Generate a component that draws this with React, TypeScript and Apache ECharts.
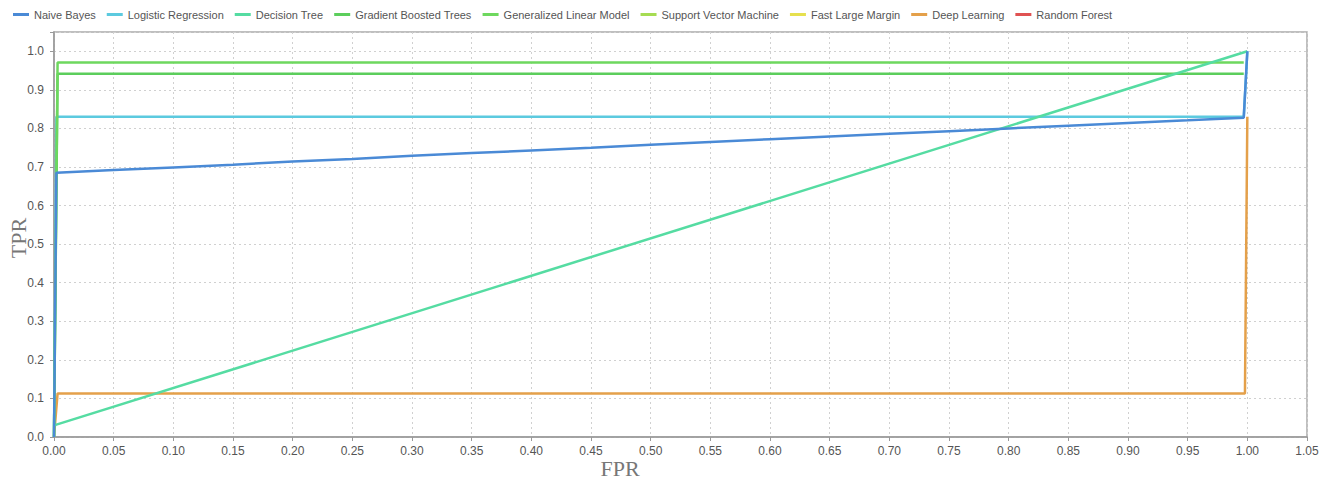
import React, { useEffect, useRef } from "react";
import * as echarts from "echarts";

const seriesNames = [
  "Naive Bayes",
  "Logistic Regression",
  "Decision Tree",
  "Gradient Boosted Trees",
  "Generalized Linear Model",
  "Support Vector Machine",
  "Fast Large Margin",
  "Deep Learning",
  "Random Forest",
];

const seriesColors = [
  "#4a8ad6",
  "#5ccadf",
  "#55dca2",
  "#5cce5c",
  "#6ed85e",
  "#a6dc52",
  "#e6e04e",
  "#e4a04a",
  "#e05252",
];

const naiveBayesFpr = [0, 0.002, 0.05, 0.1, 0.15, 0.2, 0.25, 0.3, 0.35, 0.4, 0.45, 0.5, 0.55, 0.6, 0.65, 0.7, 0.75, 0.8, 0.85, 0.9, 0.95, 0.997, 1.0];
const naiveBayesTpr = [0, 0.685, 0.692, 0.699, 0.706, 0.714, 0.721, 0.729, 0.736, 0.743, 0.75, 0.758, 0.765, 0.772, 0.779, 0.786, 0.793, 0.8, 0.807, 0.814, 0.821, 0.828, 1.0];

const logisticFpr = [0, 0.002, 0.997, 1.0];
const logisticTpr = [0, 0.83, 0.83, 1.0];

const decisionTreeFpr = [0, 1.0];
const decisionTreeTpr = [0.03, 1.0];

const gbtFpr = [0, 0.003, 0.997];
const gbtTpr = [0, 0.942, 0.942];

const glmFpr = [0, 0.003, 0.997];
const glmTpr = [0, 0.971, 0.971];

const svmFpr: number[] = [];
const svmTpr: number[] = [];

const flmFpr: number[] = [];
const flmTpr: number[] = [];

const deepFpr = [0, 0.003, 0.998, 1.0];
const deepTpr = [0, 0.113, 0.113, 0.83];

const rfFpr: number[] = [];
const rfTpr: number[] = [];

const allFpr = [naiveBayesFpr, logisticFpr, decisionTreeFpr, gbtFpr, glmFpr, svmFpr, flmFpr, deepFpr, rfFpr];
const allTpr = [naiveBayesTpr, logisticTpr, decisionTreeTpr, gbtTpr, glmTpr, svmTpr, flmTpr, deepTpr, rfTpr];

const zOrder = [9, 5, 8, 6, 7, 4, 3, 2, 1];

export default function App() {
  const ref = useRef<HTMLDivElement>(null);
  useEffect(() => {
    if (!ref.current) return;
    const chart = echarts.init(ref.current, undefined, { renderer: "svg" });
    const series = seriesNames.map((name, i) => ({
      name,
      type: "line",
      data: allFpr[i].map((x, j) => [x, allTpr[i][j]]),
      showSymbol: false,
      symbol: "none",
      lineStyle: { width: 2.5, color: seriesColors[i] },
      itemStyle: { color: seriesColors[i] },
      z: zOrder[i],
    }));
    chart.setOption({
      animation: false,
      backgroundColor: "#ffffff",
      legend: {
        left: 8,
        top: 4,
        icon: "rect",
        itemWidth: 16,
        itemHeight: 3,
        itemGap: 11,
        textStyle: { fontFamily: "Liberation Sans", fontSize: 11, color: "#555" },
        data: seriesNames,
      },
      grid: {
        left: 54,
        right: 18,
        top: 32,
        bottom: 46,
        show: true,
        borderColor: "#aaa",
        borderWidth: 1.5,
      },
      xAxis: {
        type: "value",
        min: 0,
        max: 1.05,
        interval: 0.05,
        axisLine: { show: true, lineStyle: { color: "#999", width: 1.5 } },
        axisTick: { show: true, length: 4, lineStyle: { color: "#999" } },
        axisLabel: {
          fontFamily: "Liberation Sans",
          fontSize: 12,
          color: "#555",
          margin: 8,
          formatter: (v: number) => v.toFixed(2),
        },
        splitLine: { show: true, lineStyle: { color: "#d0d0d0", type: [2, 3] } },
      },
      yAxis: {
        type: "value",
        min: 0,
        max: 1.05,
        interval: 0.1,
        axisLine: { show: true, lineStyle: { color: "#999", width: 1.5 } },
        axisTick: { show: true, length: 4, lineStyle: { color: "#999" } },
        axisLabel: {
          fontFamily: "Liberation Sans",
          fontSize: 12,
          color: "#555",
          margin: 10,
          formatter: (v: number) => (v > 1.0001 ? "" : v.toFixed(1)),
        },
        splitLine: { show: true, lineStyle: { color: "#d0d0d0", type: [2, 3] } },
      },
      graphic: [
        {
          type: "text",
          x: 620,
          y: 468,
          style: {
            text: "FPR",
            fontFamily: "Liberation Serif",
            fontSize: 22,
            fill: "#777",
            align: "center",
            verticalAlign: "middle",
          },
        },
        {
          type: "text",
          x: 18,
          y: 238,
          rotation: Math.PI / 2,
          style: {
            text: "TPR",
            fontFamily: "Liberation Serif",
            fontSize: 22,
            fill: "#777",
            align: "center",
            verticalAlign: "middle",
          },
        },
      ],
      series,
    });
    return () => chart.dispose();
  }, []);
  return (
    <div
      ref={ref}
      style={{ position: "fixed", left: 0, top: 0, width: 1325, height: 483, background: "#fff" }}
    />
  );
}
